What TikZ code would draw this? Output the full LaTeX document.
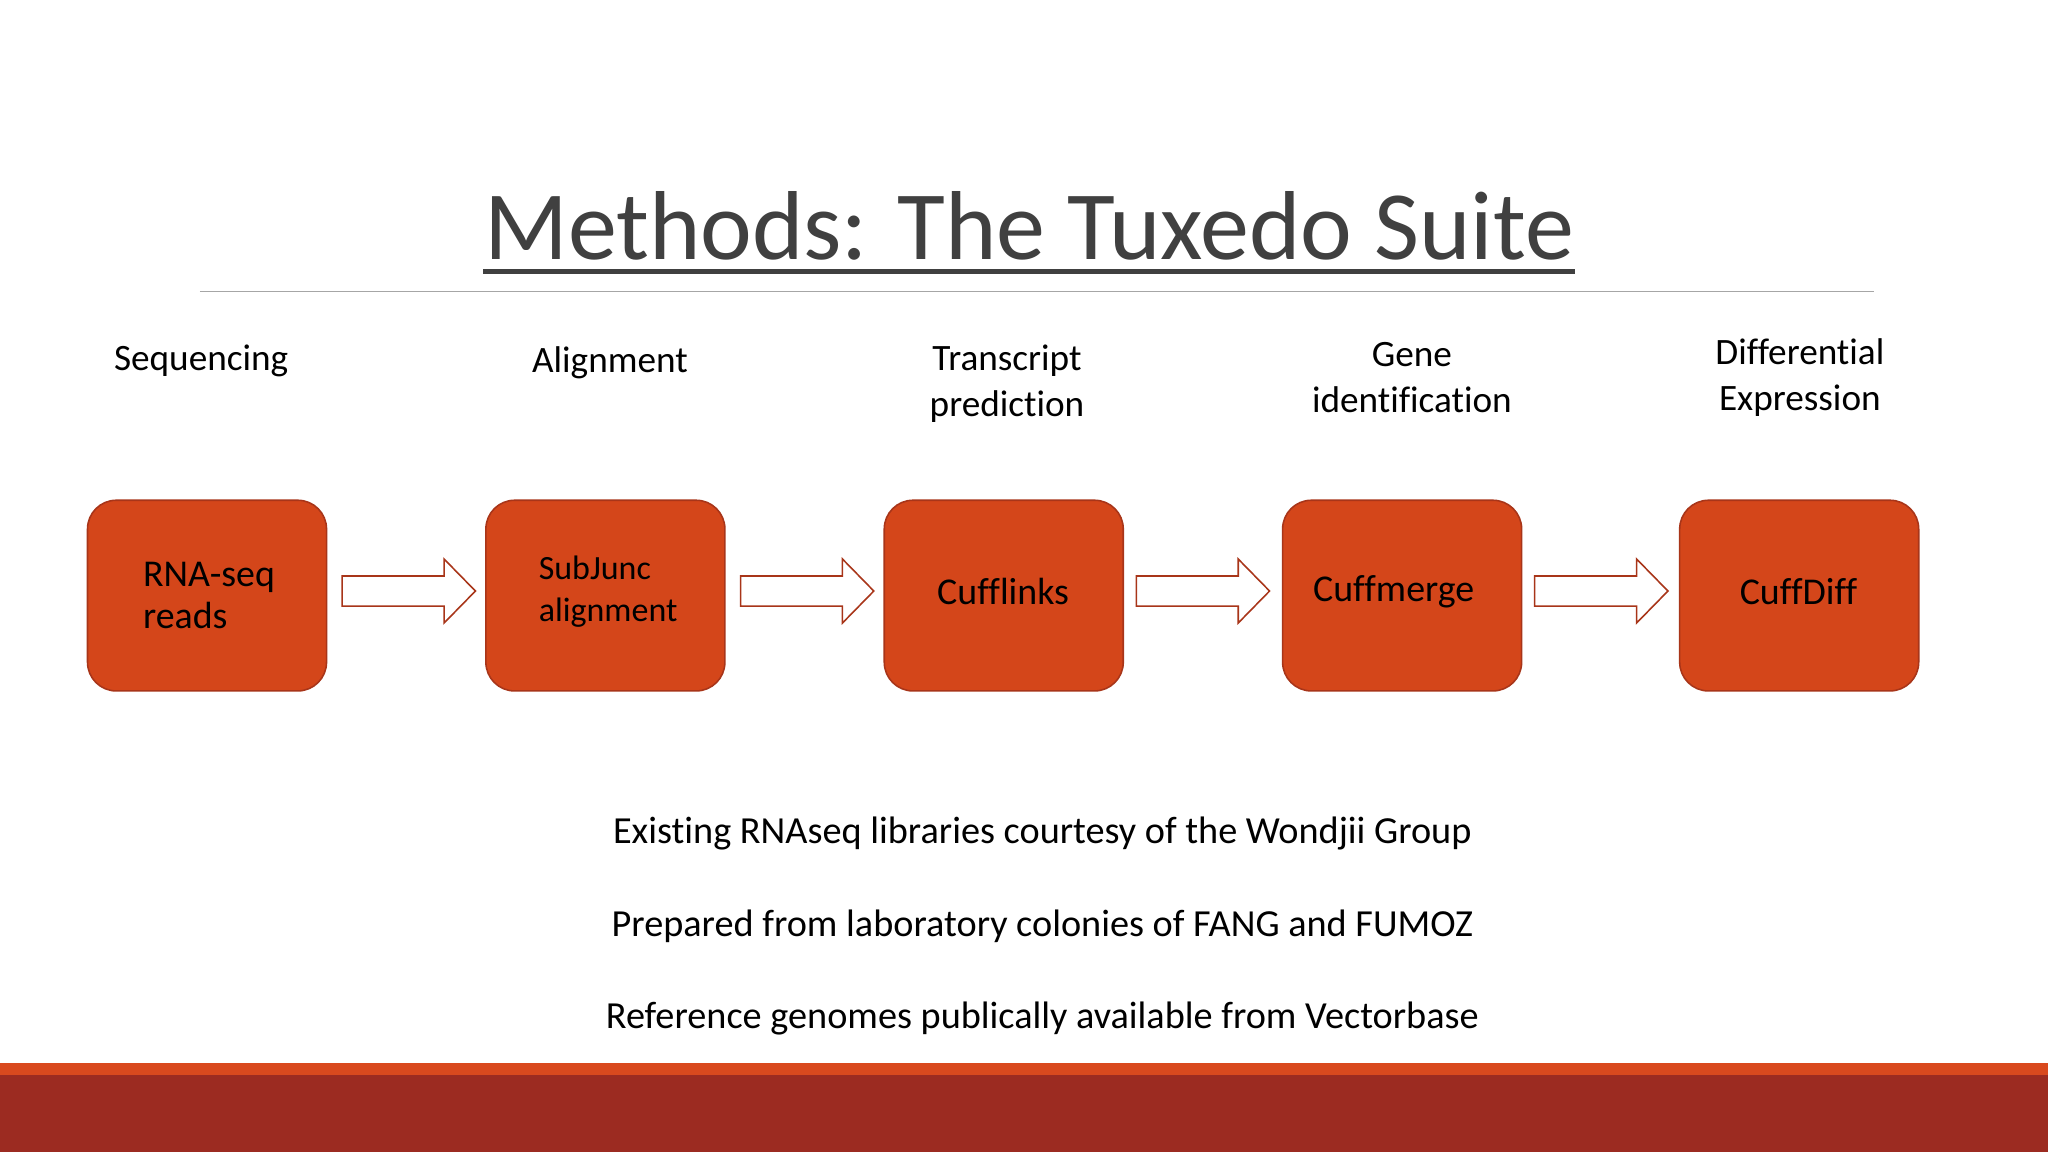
\documentclass[tikz,border=0pt]{standalone}
\usepackage{fontspec}
\setmainfont[Ligatures=NoCommon]{Carlito}
\usetikzlibrary{shapes.arrows}
\definecolor{boxfill}{HTML}{D4461A}
\definecolor{boxline}{HTML}{A83519}
\definecolor{titlec}{HTML}{404040}
\definecolor{barred}{HTML}{9C2B21}
\definecolor{barorange}{HTML}{D9491E}
\begin{document}
\begin{tikzpicture}[x=1pt,y=-1pt,
  stepbox/.style={draw=boxline,line width=1.2pt,fill=boxfill,rounded corners=22pt,minimum width=183pt,minimum height=146pt,inner sep=0pt},
  lbl/.style={font=\fontsize{28.5}{35}\selectfont,align=center,text=black},
  btxt/.style={font=\fontsize{29.3}{32}\selectfont,text=black},
  blk/.style={draw=boxline,line width=1.2pt,fill=white}]
\useasboundingbox (0,0) rectangle (1568,882);
\fill[white] (0,0) rectangle (1568,882);
\node[font=\fontsize{75}{90}\selectfont,text=titlec] (title) at (788,173) {Methods: The Tuxedo Suite};
\draw[titlec,line width=3.5pt] (370,208) -- (1206,208);
\draw[gray!70,line width=1pt] (153,223) -- (1435,223);
\node[lbl] (l1) at (154,276) {Sequencing};
\node[lbl] (l2) at (467,278) {Alignment};
\node[lbl] (l3) at (771,294) {Transcript\\prediction};
\node[lbl] (l4) at (1081,289) {Gene\\identification};
\node[lbl] (l5) at (1378,289) {Differential\\Expression};
\foreach \i/\x in {1/158.5,2/463.5,3/768.5,4/1073.5,5/1377.5}{
  \node[stepbox] (b\i) at (\x,456) {};
}
\node[font=\fontsize{29}{32}\selectfont,align=left,anchor=west] (t1) at (106,456) {RNA-seq\\reads};
\node[font=\fontsize{26}{32}\selectfont,align=left,anchor=west] (t2) at (409,453) {SubJunc\\alignment};
\node[font=\fontsize{29}{32}\selectfont] (t3) at (768,453) {Cufflinks};
\node[font=\fontsize{29}{32}\selectfont] (t4) at (1067,453) {Cuffmerge};
\node[font=\fontsize{29}{32}\selectfont] (t5) at (1377,453) {CuffDiff};
\foreach \x in {262,567,870,1175}{
  \draw[blk] (\x,441) -- (\x+78,441) -- (\x+78,428) -- (\x+102,452.5) -- (\x+78,477) -- (\x+78,464) -- (\x,464) -- cycle;
}
\node[btxt] (n1) at (798,638) {Existing RNAseq libraries courtesy of the Wondjii Group};
\node[btxt] (n2) at (798,709) {Prepared from laboratory colonies of FANG and FUMOZ};
\node[btxt] (n3) at (798,780) {Reference genomes publically available from Vectorbase};
\fill[barorange] (0,814) rectangle (1568,823);
\fill[barred] (0,823) rectangle (1568,882);
\end{tikzpicture}
\end{document}
